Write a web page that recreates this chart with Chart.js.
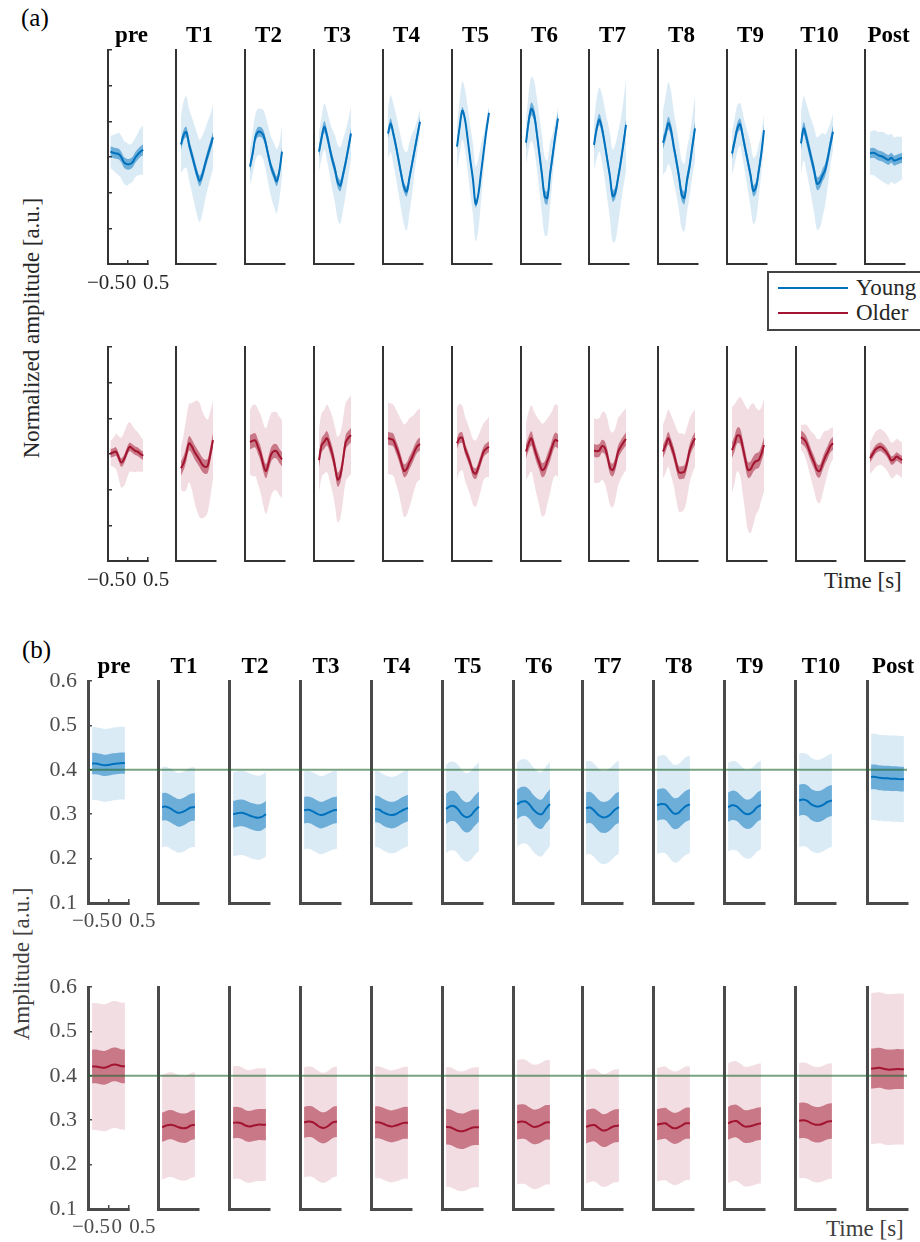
<!DOCTYPE html>
<html>
<head>
<meta charset="utf-8">
<script src="https://cdn.jsdelivr.net/npm/chart.js@4.4.1/dist/chart.umd.min.js"></script>
<style>
  body { margin: 0; background: #fff; }
  #fig { position: relative; width: 920px; height: 1242px; overflow: hidden; background: #fff;
         font-family: 'Liberation Serif', 'Times New Roman', serif; }
  #fig canvas { position: absolute; }
  .txt { position: absolute; white-space: nowrap; font-size: 23px; line-height: 23px; color: #262626; }
  .ylab { position: absolute; white-space: nowrap; font-size: 23px; line-height: 23px; color: #262626;
          transform: translate(-50%, -50%) rotate(-90deg); }
  .panel { position: absolute; font-size: 25px; line-height: 25px; color: #000; }
  .leg-box { position: absolute; border: 2px solid #444; background: #fff; }
  .leg-line { position: absolute; height: 2px; }
</style>
</head>
<body>
<div id="fig">
  <div class="panel" style="left:21px; top:5px;">(a)</div>
  <div class="panel" style="left:22px; top:637px;">(b)</div>
  <div class="ylab" style="left:31px; top:328px;">Normalized amplitude [a.u.]</div>
  <div class="ylab" style="left:21px; top:964px; color:#404040;">Amplitude [a.u.]</div>
  <div class="txt" style="left:824px; top:569px;">Time [s]</div>
  <div class="txt" style="left:826px; top:1217px; color:#404040;">Time [s]</div>
</div>

<script>
// ── Data ──────────────────────────────────────────────────────────────────────
const titles = ['pre', 'T1', 'T2', 'T3', 'T4', 'T5', 'T6', 'T7', 'T8', 'T9', 'T10', 'Post'];

// sample times [s]
const timePreA = [-0.44, -0.37, -0.30, -0.23, -0.17, -0.10, -0.03, 0.04, 0.11, 0.18, 0.25, 0.31, 0.38];
const timeA    = [-0.375, -0.308, -0.242, -0.175, -0.108, -0.042, 0.025, 0.092, 0.158, 0.225, 0.292, 0.358, 0.425];
const timeB    = [-0.4, -0.3, -0.2, -0.1, 0, 0.1, 0.2, 0.3, 0.4];

const xTicks  = [-0.5, 0, 0.5];
const yTicksA = [-3, -2, -1, 0, 1, 2, 3];
const yTicksB = [0.1, 0.2, 0.3, 0.4, 0.5, 0.6];

// (a) normalized waveforms — Young
const youngMeanA = [
  [0.15, 0.12, 0.10, 0.08, 0.0, -0.15, -0.2, -0.2, -0.15, -0.02, 0.08, 0.15, 0.2],
  [0.35, 0.62, 0.7, 0.36, 0.08, -0.2, -0.48, -0.67, -0.5, -0.22, 0.05, 0.3, 0.55],
  [-0.27, 0.1, 0.55, 0.7, 0.7, 0.62, 0.35, 0.0, -0.3, -0.5, -0.68, -0.4, 0.15],
  [0.15, 0.55, 0.85, 0.6, 0.25, -0.08, -0.35, -0.7, -0.8, -0.5, -0.15, 0.25, 0.66],
  [0.66, 0.94, 0.65, 0.3, -0.1, -0.5, -0.85, -0.97, -0.6, -0.2, 0.2, 0.6, 0.99],
  [0.29, 0.85, 1.3, 1.05, 0.5, -0.09, -0.64, -1.32, -1.05, -0.45, 0.15, 0.73, 1.24],
  [0.4, 1.0, 1.35, 1.2, 0.7, 0.1, -0.5, -1.1, -1.15, -0.5, 0.05, 0.6, 1.08],
  [0.34, 0.8, 1.05, 0.8, 0.38, -0.08, -0.55, -1.1, -1.0, -0.6, -0.15, 0.35, 0.9],
  [0.4, 0.65, 0.95, 0.75, 0.3, -0.1, -0.55, -1.05, -1.15, -0.65, -0.24, 0.3, 0.8],
  [0.1, 0.45, 0.8, 0.92, 0.6, 0.22, -0.15, -0.53, -0.95, -0.85, -0.4, 0.1, 0.75],
  [0.38, 0.8, 0.56, 0.24, -0.08, -0.4, -0.75, -0.7, -0.52, -0.37, -0.05, 0.35, 0.71],
  [0.1, 0.12, 0.1, 0.05, 0.03, 0.0, -0.05, -0.08, -0.02, -0.1, -0.08, -0.05, -0.03],
];
const youngSemA = [0.15, 0.15, 0.14, 0.16, 0.14, 0.1, 0.18, 0.16, 0.18, 0.16, 0.18, 0.14];
const youngSdA = [
  [0.45, 0.5, 0.55, 0.6, 0.6, 0.6, 0.6, 0.55, 0.55, 0.55, 0.6, 0.65, 0.7],
  [0.8, 0.95, 1.0, 1.0, 1.05, 1.1, 1.15, 1.15, 1.1, 1.0, 0.95, 0.9, 0.9],
  [0.5, 0.6, 0.65, 0.65, 0.65, 0.7, 0.75, 0.8, 0.85, 0.9, 0.9, 0.8, 0.7],
  [0.55, 0.6, 0.65, 0.7, 0.75, 0.85, 0.95, 1.05, 1.07, 1.0, 0.9, 0.8, 0.75],
  [0.7, 0.8, 0.85, 0.9, 0.95, 1.0, 1.05, 1.1, 1.0, 0.85, 0.6, 0.45, 0.35],
  [0.6, 0.75, 0.82, 0.85, 0.9, 0.95, 1.0, 1.05, 1.0, 0.8, 0.5, 0.3, 0.2],
  [0.6, 0.8, 0.9, 0.95, 1.0, 1.05, 1.1, 1.1, 1.05, 0.9, 0.6, 0.4, 0.3],
  [0.7, 0.85, 0.9, 0.95, 1.0, 1.1, 1.2, 1.3, 1.35, 1.3, 1.2, 1.2, 1.3],
  [0.9, 1.05, 1.15, 1.1, 1.0, 0.95, 0.95, 0.95, 0.95, 0.9, 0.85, 0.85, 0.9],
  [0.6, 0.65, 0.65, 0.6, 0.65, 0.7, 0.8, 0.9, 0.93, 0.9, 0.75, 0.55, 0.45],
  [0.85, 0.9, 0.95, 1.0, 1.1, 1.2, 1.3, 1.3, 1.2, 1.0, 0.8, 0.6, 0.5],
  [0.6, 0.62, 0.65, 0.65, 0.68, 0.7, 0.7, 0.7, 0.68, 0.65, 0.65, 0.62, 0.6],
];

// (a) normalized waveforms — Older
const olderMeanA = [
  [0.02, 0.04, 0.07, -0.1, -0.24, -0.15, 0.05, 0.2, 0.15, 0.09, 0.06, 0.0, -0.05],
  [-0.4, -0.25, 0.0, 0.3, 0.22, 0.07, -0.05, -0.17, -0.3, -0.36, -0.33, 0.0, 0.39],
  [0.33, 0.37, 0.38, 0.2, 0.0, -0.3, -0.48, -0.25, 0.0, 0.08, 0.07, -0.05, -0.15],
  [-0.17, 0.25, 0.35, 0.44, 0.25, 0.0, -0.35, -0.72, -0.6, -0.17, 0.33, 0.45, 0.53],
  [0.44, 0.42, 0.39, 0.2, 0.0, -0.25, -0.47, -0.42, -0.25, -0.1, 0.08, 0.22, 0.28],
  [0.3, 0.45, 0.45, 0.15, -0.05, -0.26, -0.5, -0.55, -0.38, -0.15, 0.07, 0.15, 0.2],
  [0.07, 0.3, 0.44, 0.2, -0.05, -0.25, -0.45, -0.4, -0.2, 0.0, 0.25, 0.4, 0.35],
  [0.1, 0.08, 0.1, 0.22, 0.18, -0.05, -0.38, -0.45, -0.28, 0.05, 0.2, 0.32, 0.42],
  [0.07, 0.25, 0.44, 0.25, 0.02, -0.28, -0.52, -0.52, -0.5, -0.25, 0.1, 0.3, 0.44],
  [0.11, 0.3, 0.52, 0.5, 0.2, -0.15, -0.45, -0.42, -0.28, -0.2, -0.17, 0.0, 0.25],
  [0.47, 0.42, 0.32, 0.12, -0.08, -0.25, -0.45, -0.48, -0.3, -0.1, 0.05, 0.22, 0.3],
  [-0.12, 0.0, 0.12, 0.18, 0.2, 0.15, 0.07, -0.05, -0.18, -0.15, -0.07, -0.12, -0.17],
];
const olderSemA = [0.12, 0.2, 0.2, 0.2, 0.18, 0.15, 0.2, 0.18, 0.18, 0.22, 0.18, 0.12];
const olderSdA = [
  [0.35, 0.4, 0.5, 0.6, 0.7, 0.75, 0.75, 0.7, 0.65, 0.6, 0.55, 0.5, 0.45],
  [0.6, 0.8, 1.0, 1.1, 1.2, 1.4, 1.55, 1.6, 1.5, 1.4, 1.3, 1.2, 1.1],
  [0.9, 1.0, 1.0, 1.05, 1.1, 1.15, 1.2, 1.2, 1.15, 1.1, 1.1, 1.1, 1.1],
  [0.9, 0.9, 0.9, 0.95, 1.0, 1.05, 1.1, 1.2, 1.2, 1.15, 1.1, 1.1, 1.1],
  [1.0, 1.0, 1.0, 1.05, 1.1, 1.2, 1.3, 1.3, 1.25, 1.15, 1.05, 1.0, 1.0],
  [1.0, 0.95, 0.9, 0.9, 0.9, 0.9, 0.92, 0.93, 0.9, 0.85, 0.8, 0.8, 0.85],
  [0.8, 0.9, 0.93, 1.0, 1.1, 1.2, 1.3, 1.3, 1.2, 1.1, 1.0, 1.0, 1.0],
  [0.9, 0.9, 0.9, 0.95, 1.0, 1.05, 1.05, 1.05, 1.0, 0.95, 0.9, 0.88, 0.86],
  [0.75, 0.78, 0.8, 0.85, 0.9, 1.0, 1.1, 1.1, 1.05, 1.0, 0.9, 0.85, 0.8],
  [1.2, 1.1, 1.0, 1.1, 1.3, 1.5, 1.7, 1.8, 1.7, 1.5, 1.4, 1.3, 1.3],
  [0.35, 0.4, 0.5, 0.6, 0.7, 0.8, 0.88, 0.9, 0.85, 0.75, 0.6, 0.5, 0.45],
  [0.45, 0.48, 0.5, 0.5, 0.5, 0.5, 0.5, 0.5, 0.5, 0.5, 0.5, 0.5, 0.5],
];

// (b) amplitude [a.u.] — Young
const youngMeanB = [
  [0.414, 0.414, 0.412, 0.410, 0.411, 0.413, 0.414, 0.415, 0.415],
  [0.316, 0.317, 0.313, 0.307, 0.303, 0.305, 0.310, 0.315, 0.316],
  [0.300, 0.302, 0.303, 0.301, 0.297, 0.294, 0.292, 0.294, 0.300],
  [0.309, 0.310, 0.307, 0.302, 0.298, 0.300, 0.304, 0.308, 0.310],
  [0.312, 0.310, 0.304, 0.300, 0.298, 0.300, 0.305, 0.310, 0.314],
  [0.312, 0.318, 0.318, 0.310, 0.298, 0.293, 0.297, 0.308, 0.317],
  [0.322, 0.328, 0.329, 0.322, 0.310, 0.302, 0.300, 0.312, 0.323],
  [0.314, 0.315, 0.308, 0.298, 0.293, 0.294, 0.300, 0.310, 0.316],
  [0.320, 0.323, 0.322, 0.312, 0.302, 0.302, 0.310, 0.318, 0.322],
  [0.316, 0.320, 0.318, 0.310, 0.302, 0.300, 0.305, 0.315, 0.321],
  [0.331, 0.333, 0.330, 0.322, 0.318, 0.318, 0.322, 0.328, 0.331],
  [0.384, 0.384, 0.382, 0.381, 0.381, 0.380, 0.380, 0.379, 0.379],
];
const youngSemB = [0.024, 0.031, 0.03, 0.03, 0.03, 0.034, 0.033, 0.035, 0.035, 0.033, 0.035, 0.028];
const youngSdB  = [0.082, 0.09, 0.095, 0.088, 0.086, 0.1, 0.095, 0.105, 0.11, 0.1, 0.105, 0.097];

// (b) amplitude [a.u.] — Older
const olderMeanB = [
  [0.421, 0.421, 0.419, 0.418, 0.421, 0.425, 0.425, 0.422, 0.421],
  [0.284, 0.288, 0.290, 0.288, 0.284, 0.282, 0.283, 0.288, 0.290],
  [0.294, 0.295, 0.293, 0.288, 0.286, 0.288, 0.290, 0.290, 0.290],
  [0.295, 0.297, 0.296, 0.290, 0.284, 0.283, 0.288, 0.295, 0.297],
  [0.295, 0.295, 0.292, 0.288, 0.286, 0.288, 0.291, 0.294, 0.294],
  [0.285, 0.284, 0.280, 0.276, 0.275, 0.278, 0.282, 0.284, 0.284],
  [0.295, 0.297, 0.296, 0.290, 0.285, 0.286, 0.290, 0.295, 0.295],
  [0.285, 0.288, 0.289, 0.283, 0.277, 0.278, 0.283, 0.287, 0.288],
  [0.290, 0.292, 0.293, 0.287, 0.282, 0.283, 0.288, 0.293, 0.293],
  [0.293, 0.297, 0.298, 0.292, 0.286, 0.286, 0.288, 0.291, 0.293],
  [0.299, 0.300, 0.298, 0.293, 0.290, 0.290, 0.293, 0.297, 0.298],
  [0.416, 0.417, 0.418, 0.416, 0.414, 0.414, 0.415, 0.415, 0.415],
];
const olderSemB = [0.038, 0.033, 0.035, 0.035, 0.036, 0.04, 0.039, 0.037, 0.035, 0.037, 0.04, 0.045];
const olderSdB  = [0.143, 0.118, 0.127, 0.124, 0.126, 0.135, 0.14, 0.127, 0.128, 0.135, 0.13, 0.17];

const refLevelB = 0.4;   // reference (green) level in panel (b)

// ── Styling ───────────────────────────────────────────────────────────────────
const FONT = "'Liberation Serif', 'Times New Roman', serif";
Chart.defaults.font.family = FONT;

const COLORS = {
  young: { line: '#0072BD', dark: 'rgba(0,114,189,0.5)',  light: 'rgba(0,114,189,0.14)' },
  older: { line: '#A2142F', dark: 'rgba(162,20,47,0.5)',  light: 'rgba(162,20,47,0.14)' },
};
const REF_COLOR = 'rgba(30,100,45,0.6)';

const spinesA = [108, 176, 245, 314, 383, 452, 521, 589, 658, 727, 796, 865];
const spinesB = [88, 158, 229, 300, 371, 442, 513, 582, 653, 724, 795, 867];

const fig = document.getElementById('fig');
const fmtX = v => (v < 0 ? '\u2212' : '') + Math.abs(v);

function newCanvas(left, top, w, h) {
  const c = document.createElement('canvas');
  c.width = w; c.height = h;
  c.style.left = left + 'px';
  c.style.top = top + 'px';
  fig.appendChild(c);
  return c;
}

// ── One row of 12 small axes ─────────────────────────────────────────────────
function drawRow(cfg) {
  cfg.spines.forEach((spine, k) => {
    const first  = k === 0;
    const W = cfg.width, H = cfg.height;
    // scale boxes hold the tick labels (labels are clipped to their scale box)
    const yBox   = first && cfg.yLabels ? 44 : 0;
    const xBox   = first ? 36 : 0;
    const padL   = first ? cfg.firstPadL : 4;     // total room left of the spine
    const padR   = first ? 24 : 8;
    const rBox   = cfg.shift + yBox;              // keeps the title centred a bit right
    const titleH = cfg.titled ? 28 : 0;
    const padT   = cfg.titled ? 4 : 14;
    const padB   = 4;
    const canvas = newCanvas(spine - padL, cfg.top - padT - titleH,
                             padL + W + rBox + padR, padT + titleH + H + xBox + padB);

    const t    = first ? cfg.timeFirst : cfg.time;
    const mean = cfg.mean[k];
    const sem  = cfg.sem[k];
    const sd   = cfg.sd[k];
    const sdAt = i => Array.isArray(sd) ? sd[i] : sd;
    const pts  = f => mean.map((m, i) => ({ x: t[i], y: f(m, i) }));
    const band = (data, fill, color) => ({
      data, fill, backgroundColor: color, borderColor: 'rgba(0,0,0,0)', borderWidth: 0,
      pointRadius: 0, tension: cfg.tension, xAxisID: 'x', yAxisID: 'y',
    });
    const col = cfg.color;

    const axisBorder = { display: true, color: cfg.axisColor, width: cfg.axisWidth };
    const tickGrid = { display: first, drawOnChartArea: false, drawTicks: true, tickLength: -4,
                       color: cfg.axisColor, lineWidth: 1.5 };

    new Chart(canvas.getContext('2d'), {
      type: 'line',
      data: {
        datasets: [
          { data: pts(m => m), borderColor: col.line, borderWidth: 2, fill: false, pointRadius: 0,
            tension: cfg.tension, xAxisID: 'x', yAxisID: 'y' },
          band(pts(m => m + sem), '+1', col.dark),
          band(pts(m => m - sem), false, col.dark),
          band(pts((m, i) => m + sdAt(i)), '+1', col.light),
          band(pts((m, i) => m - sdAt(i)), false, col.light),
        ]
      },
      options: {
        responsive: false, animation: false, events: [], devicePixelRatio: 1,
        layout: { padding: { left: padL - yBox, right: padR, top: padT, bottom: padB } },
        plugins: {
          legend: { display: false },
          tooltip: { enabled: false },
          title: {
            display: cfg.titled, text: titles[k], color: '#000', padding: 0,
            font: { family: FONT, size: 23, weight: 'bold', lineHeight: '28px' },
          },
        },
        scales: {
          x: {
            type: 'linear', min: xTicks[0], max: xTicks[xTicks.length - 1],
            border: axisBorder, grid: tickGrid,
            afterBuildTicks: s => { s.ticks = xTicks.map(value => ({ value })); },
            ticks: { display: false },
            afterFit: s => { s.height = 0; s.paddingLeft = 0; s.paddingRight = 0; },
          },
          // label-only time axis (MATLAB spreads these labels wider than the ticks)
          xl: {
            type: 'linear', position: 'bottom', display: first,
            min: cfg.labelRange[0], max: cfg.labelRange[1],
            border: { display: false }, grid: { display: false, drawTicks: false },
            afterBuildTicks: s => { s.ticks = xTicks.map(value => ({ value })); },
            ticks: { autoSkip: false, maxRotation: 0, minRotation: 0, padding: cfg.xPad,
                     color: cfg.tickColor, font: { size: 21 }, callback: fmtX },
            afterFit: s => { s.height = xBox; s.paddingLeft = 0; s.paddingRight = 0; },
          },
          y: {
            type: 'linear', min: cfg.yTicks[0], max: cfg.yTicks[cfg.yTicks.length - 1],
            border: axisBorder, grid: tickGrid,
            afterBuildTicks: s => { s.ticks = cfg.yTicks.map(value => ({ value })); },
            ticks: { display: first && cfg.yLabels, padding: 15, color: cfg.tickColor,
                     font: { size: 22 }, callback: v => v.toFixed(1) },
            afterFit: s => { s.width = yBox; s.paddingTop = 0; s.paddingBottom = 0; },
          },
          pad: {
            type: 'linear', position: 'right', display: true,
            ticks: { display: false }, grid: { display: false }, border: { display: false },
            afterFit: s => { s.width = rBox; },
          },
        },
      },
    });
  });
}

// ── Green reference line across a row of panel (b) ───────────────────────────
function drawRefLine(top, height, left, right) {
  const canvas = newCanvas(left, top, right - left, height);
  new Chart(canvas.getContext('2d'), {
    type: 'line',
    data: { datasets: [{ data: [{ x: 0, y: refLevelB }, { x: 1, y: refLevelB }],
                         borderColor: REF_COLOR, borderWidth: 2, pointRadius: 0, fill: false }] },
    options: {
      responsive: false, animation: false, events: [], devicePixelRatio: 1,
      layout: { padding: 0 },
      plugins: { legend: { display: false }, tooltip: { enabled: false } },
      scales: {
        x: { type: 'linear', display: false, min: 0, max: 1 },
        y: { type: 'linear', display: false, min: yTicksB[0], max: yTicksB[yTicksB.length - 1] },
      },
    },
  });
}

const rowA = {
  spines: spinesA, width: 40, height: 214, shift: 7, firstPadL: 24, labelRange: [-0.46, 0.34],
  timeFirst: timePreA, time: timeA, yTicks: yTicksA, yLabels: false,
  tension: 0.35, axisColor: '#333333', axisWidth: 2, tickColor: '#262626', xPad: 7,
};
const rowB = {
  spines: spinesB, width: 41, height: 222, shift: 11, firstPadL: 46, labelRange: [-0.558, 0.238],
  timeFirst: timeB, time: timeB, yTicks: yTicksB, yLabels: true,
  tension: 0.4, axisColor: '#4a4a4a', axisWidth: 3, tickColor: '#4d4d4d', xPad: 6,
};

drawRow({ ...rowA, top: 50,  titled: true,  mean: youngMeanA, sem: youngSemA, sd: youngSdA, color: COLORS.young });
drawRow({ ...rowA, top: 347, titled: false, mean: olderMeanA, sem: olderSemA, sd: olderSdA, color: COLORS.older });
drawRow({ ...rowB, top: 681, titled: true,  mean: youngMeanB, sem: youngSemB, sd: youngSdB, color: COLORS.young });
drawRow({ ...rowB, top: 987, titled: false, mean: olderMeanB, sem: olderSemB, sd: olderSdB, color: COLORS.older });

drawRefLine(681, 222, spinesB[0], 907);
drawRefLine(987, 222, spinesB[0], 907);

// ── Legend (Young / Older) ───────────────────────────────────────────────────
function addLegend() {
  const box = document.createElement('div');
  box.className = 'leg-box';
  box.style.cssText = 'left:767px; top:271px; width:170px; height:56px;';
  fig.appendChild(box);
  [['Young', COLORS.young.line, 287, 276], ['Older', COLORS.older.line, 312, 301]].forEach(([label, color, ly, ty]) => {
    const line = document.createElement('div');
    line.className = 'leg-line';
    line.style.cssText = `left:778px; top:${ly}px; width:70px; background:${color};`;
    fig.appendChild(line);
    const txt = document.createElement('div');
    txt.className = 'txt';
    txt.style.cssText = `left:856px; top:${ty}px;`;
    txt.textContent = label;
    fig.appendChild(txt);
  });
}
addLegend();
</script>
</body>
</html>
